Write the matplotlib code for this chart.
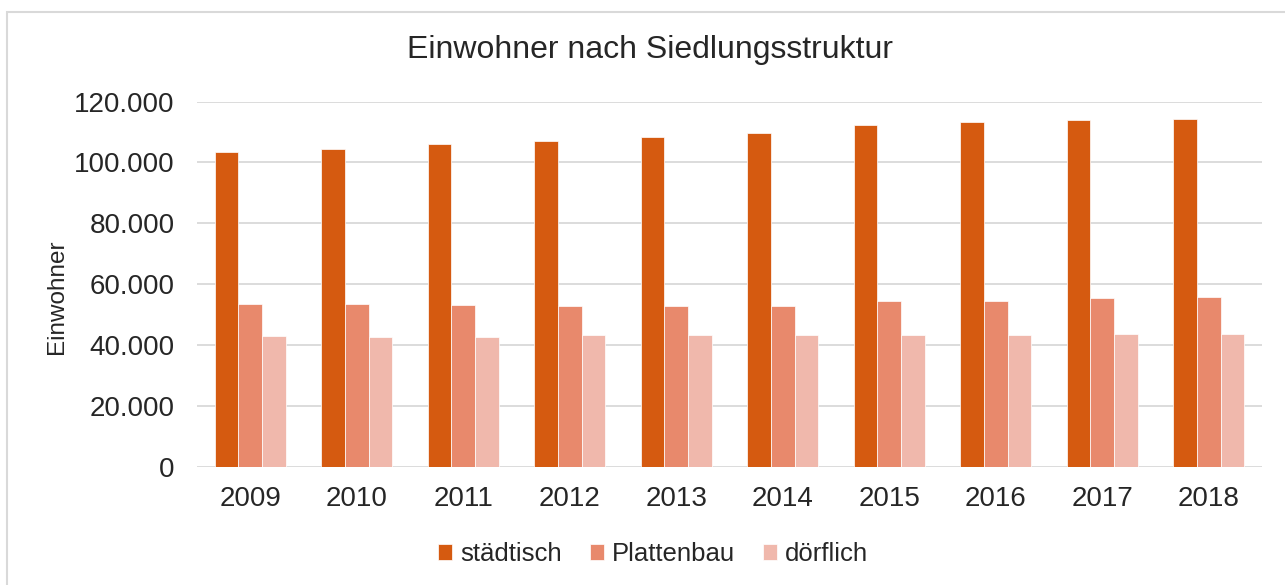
import matplotlib
matplotlib.use("Agg")
import matplotlib.pyplot as plt
import numpy as np
from matplotlib.ticker import FuncFormatter
from matplotlib.patches import Rectangle

years = ["2009", "2010", "2011", "2012", "2013", "2014", "2015", "2016", "2017", "2018"]
staedtisch = [103300, 104300, 105900, 107100, 108500, 109800, 112400, 113200, 114000, 114200]
plattenbau = [53500, 53500, 53200, 53000, 53000, 53000, 54400, 54500, 55400, 55800]
doerflich = [43000, 42800, 42800, 43200, 43200, 43300, 43300, 43500, 43800, 43800]
series_names = ["städtisch", "Plattenbau", "dörflich"]
colors = ["#D55A10", "#E8896C", "#F0B8AC"]

W, H = 1285, 585
fig = plt.figure(figsize=(W / 100, H / 100), dpi=100)
plt.rcParams['font.family'] = ['Liberation Sans', 'DejaVu Sans']

# outer chart border (cropped on right/bottom)
fig.patches.append(Rectangle((7 / W, -0.1), 1.2, 1 - 12 / H + 0.1, transform=fig.transFigure,
                             fill=False, edgecolor="#D9D9D9", linewidth=1.5))

left, right, top, bottom = 197, 1262, 101.5, 467
ax = fig.add_axes([left / W, 1 - bottom / H, (right - left) / W, (bottom - top) / H])

x = np.arange(len(years))
bw = 0.221
for i, (vals, name, c) in enumerate(zip([staedtisch, plattenbau, doerflich], series_names, colors)):
    ax.bar(x + (i - 1) * bw, vals, width=bw, color=c, label=name, edgecolor="white",
           linewidth=0.5, zorder=3)

ax.set_xlim(-0.5, len(years) - 0.5)
ax.set_ylim(0, 120000)
ax.set_yticks(np.arange(0, 120001, 20000))
ax.yaxis.set_major_formatter(FuncFormatter(lambda v, p: f"{int(v):,}".replace(",", ".")))
ax.set_xticks(x)
ax.set_xticklabels(years)
ax.grid(axis="y", color="#D9D9D9", linewidth=1.3, zorder=0)
for s in ax.spines.values():
    s.set_visible(False)
ax.tick_params(axis="both", length=0, labelsize=20, colors="#262626")
ax.tick_params(axis="y", pad=16)
ax.tick_params(axis="x", pad=14)
ax.set_ylabel("Einwohner", fontsize=17.5, color="#262626")
ax.yaxis.set_label_coords((57 - left) / (right - left), (bottom - 297) / (bottom - top))
ax.yaxis.label.set_va("center")

fig.text(650 / W, 1 - 50 / H, "Einwohner nach Siedlungsstruktur", ha="center", va="center",
         fontsize=23, color="#262626")

fig.legend(loc="center", bbox_to_anchor=(653 / W, 1 - 554 / H), ncol=3, frameon=False,
           fontsize=18.5, handlelength=0.55, handleheight=0.55, handletextpad=0.3,
           columnspacing=1.1, labelcolor="#262626")

fig.savefig("out.png", dpi=100)
